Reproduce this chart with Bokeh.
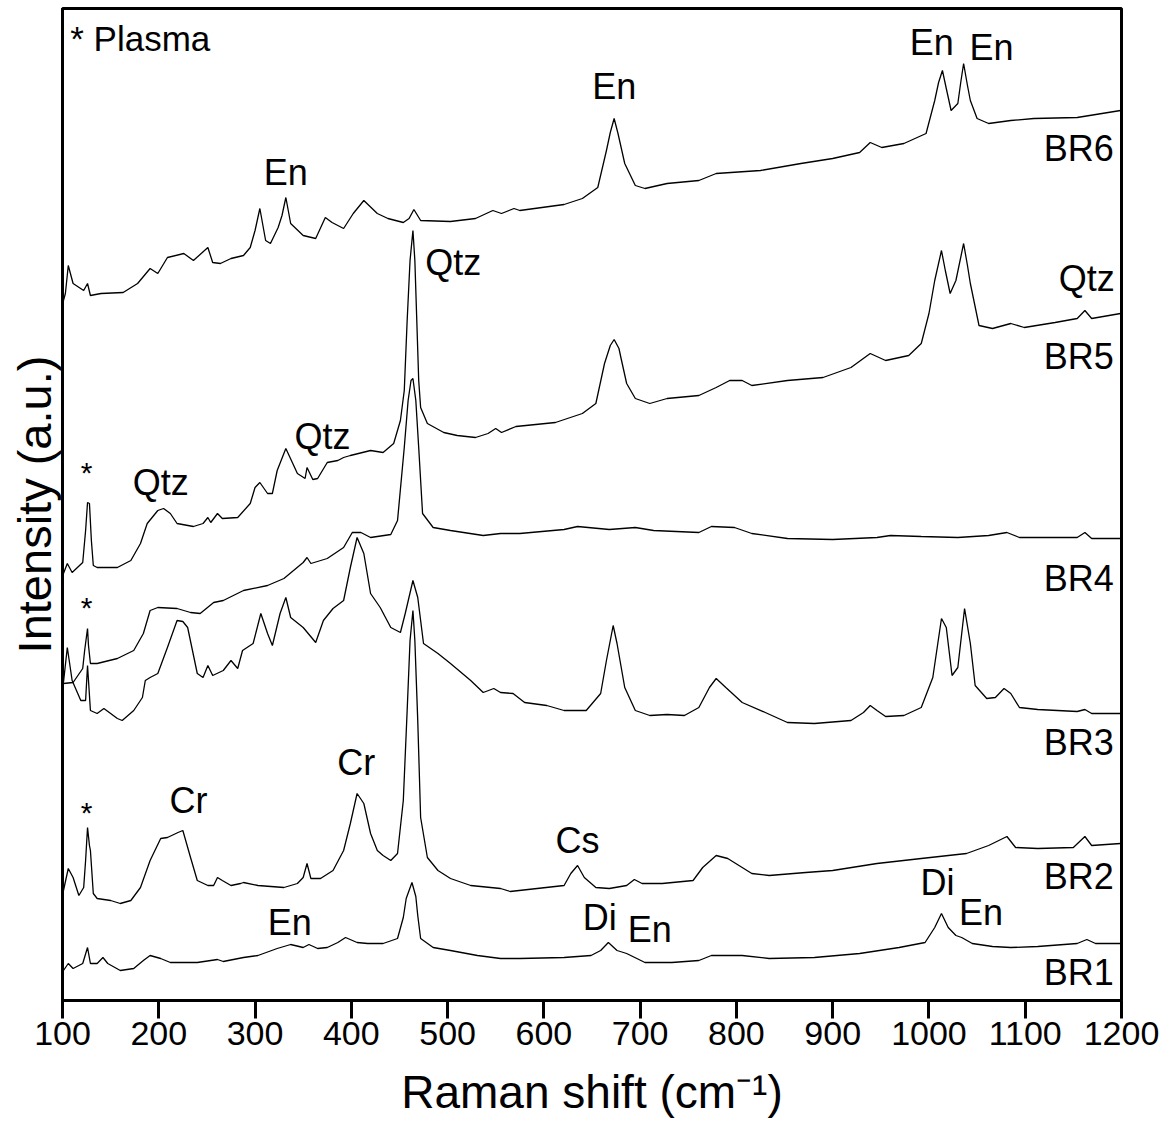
from bokeh.plotting import figure
from bokeh.models import Range1d, FixedTicker
from bokeh.core.properties import value
from bokeh.embed import file_html
from bokeh.resources import INLINE

FONT = "Liberation Sans"

# ---- spectra (Raman shift in cm-1, intensity in a.u., stacked) ----
x_br6 = [101, 103, 106, 111, 122, 126, 129, 140, 163, 178, 191, 199, 209, 226, 236, 251, 256, 264, 275, 288,
         295, 300, 305, 311, 316, 324, 328, 332, 337, 350, 363, 373, 380, 392, 402, 413, 427, 438, 454, 460,
         465, 472, 503, 529, 547, 556, 569, 575, 621, 640, 656, 665, 669, 673, 677, 684, 695, 705, 728, 761,
         779, 825, 867, 900, 928, 939, 951, 974, 997, 1006, 1010, 1014, 1018, 1023, 1030, 1033, 1036, 1040, 1043, 1050,
         1062, 1085, 1109, 1154, 1199]
y_br6 = [700, 707, 735, 717, 710, 717, 705, 707, 708, 717, 732, 727, 743, 747, 740, 753, 738, 737, 742, 745,
         753, 770, 792, 760, 757, 773, 785, 803, 777, 765, 762, 783, 778, 772, 787, 800, 787, 782, 778, 782,
         791, 780, 779, 782, 790, 787, 792, 790, 796, 802, 813, 850, 868, 882, 867, 837, 815, 812, 817, 820,
         827, 830, 837, 842, 848, 858, 853, 857, 867, 900, 918, 930, 912, 890, 897, 918, 937, 915, 900, 882,
         877, 880, 882, 883, 890]

x_br5 = [101, 105, 110, 121, 124, 126, 128, 130, 132, 136, 157, 171, 181, 188, 199, 205, 212, 219, 236, 246,
         251, 254, 261, 266, 282, 295, 300, 305, 313, 318, 323, 332, 344, 352, 354, 360, 365, 375, 386, 392,
         399, 420, 433, 444, 451, 455, 458, 461, 464, 466, 468, 470, 472, 479, 496, 510, 529, 542, 550, 556,
         571, 612, 640, 654, 663, 669, 673, 678, 680, 686, 695, 710, 728, 761, 779, 793, 806, 816, 853, 890,
         919, 939, 955, 979, 992, 1000, 1006, 1013, 1017, 1022, 1028, 1036, 1040, 1043, 1052, 1066, 1085, 1099, 1131, 1154,
         1162, 1169, 1199]
y_br5 = [427, 437, 428, 438, 470, 498, 497, 460, 435, 433, 433, 440, 457, 477, 490, 492, 487, 477, 474, 477,
         483, 478, 487, 482, 483, 497, 513, 518, 507, 507, 530, 552, 527, 522, 533, 521, 522, 538, 540, 543,
         545, 550, 548, 557, 580, 610, 680, 740, 770, 740, 680, 620, 593, 577, 568, 565, 563, 567, 572, 568,
         574, 578, 587, 597, 637, 655, 661, 652, 643, 617, 602, 597, 602, 605, 613, 620, 620, 615, 620, 623,
         633, 647, 640, 645, 657, 687, 720, 750, 730, 707, 720, 757, 735, 717, 675, 672, 677, 673, 678, 682,
         690, 682, 687]

x_br4 = [101, 111, 121, 123, 126, 127, 129, 136, 157, 174, 184, 191, 199, 219, 233, 243, 257, 267, 288, 313,
         330, 350, 354, 358, 375, 392, 401, 410, 420, 441, 448, 455, 459, 462, 464, 467, 470, 474, 485, 503,
         537, 555, 575, 621, 635, 668, 695, 714, 761, 774, 798, 816, 853, 900, 946, 960, 992, 1030, 1062, 1081,
         1094, 1154, 1162, 1169, 1199]
y_br4 = [317, 318, 332, 350, 372, 355, 337, 337, 342, 350, 367, 390, 393, 392, 388, 387, 398, 400, 410, 415,
         422, 438, 443, 437, 442, 453, 468, 468, 463, 466, 480, 553, 600, 620, 622, 600, 553, 487, 473, 470,
         465, 467, 467, 471, 474, 471, 473, 470, 468, 474, 473, 467, 462, 461, 463, 465, 464, 463, 465, 468,
         463, 463, 468, 462, 462]

x_br3 = [101, 105, 110, 119, 124, 126, 129, 136, 143, 157, 162, 174, 183, 186, 191, 199, 209, 219, 225, 230,
         240, 246, 251, 256, 267, 275, 282, 287, 298, 306, 313, 318, 326, 332, 337, 350, 363, 371, 381, 392,
         399, 406, 413, 420, 430, 441, 451, 456, 464, 469, 475, 490, 503, 524, 537, 548, 555, 568, 580, 603,
         621, 644, 659, 665, 672, 676, 684, 695, 710, 728, 746, 761, 772, 779, 789, 806, 830, 853, 881, 919,
         932, 939, 946, 955, 974, 992, 1004, 1013, 1018, 1024, 1030, 1037, 1043, 1048, 1060, 1069, 1078, 1085, 1094, 1113,
         1154, 1162, 1169, 1199]
y_br3 = [318, 353, 320, 300, 300, 335, 290, 287, 292, 282, 280, 290, 303, 320, 323, 327, 353, 380, 379, 373,
         327, 323, 335, 325, 330, 340, 332, 350, 357, 387, 367, 355, 387, 403, 383, 373, 358, 380, 392, 400,
         433, 463, 447, 407, 393, 373, 368, 387, 420, 403, 357, 347, 337, 320, 308, 312, 308, 307, 298, 295,
         290, 290, 307, 340, 375, 357, 313, 290, 285, 286, 285, 293, 313, 322, 313, 298, 288, 278, 277, 280,
         288, 295, 290, 284, 285, 293, 323, 382, 373, 325, 333, 392, 357, 315, 302, 303, 312, 307, 293, 291,
         289, 291, 287, 287]

x_br2 = [101, 106, 111, 117, 122, 124, 126, 128, 129, 132, 136, 150, 160, 171, 181, 191, 202, 209, 220, 225,
         233, 240, 251, 257, 261, 266, 275, 285, 288, 303, 330, 344, 350, 354, 358, 368, 381, 392, 399, 406,
         413, 420, 427, 433, 441, 448, 454, 458, 461, 464, 466, 469, 472, 479, 490, 503, 524, 555, 565, 593,
         621, 628, 635, 642, 654, 668, 686, 694, 702, 723, 755, 765, 779, 791, 806, 816, 834, 872, 900, 946,
         992, 1039, 1062, 1081, 1090, 1113, 1150, 1162, 1169, 1199]
y_br2 = [110, 132, 123, 105, 113, 140, 173, 155, 150, 107, 102, 100, 97, 100, 113, 140, 162, 163, 168, 170,
         143, 120, 115, 115, 123, 120, 115, 117, 118, 115, 113, 117, 123, 137, 122, 122, 130, 150, 177, 207,
         197, 167, 150, 145, 140, 147, 200, 290, 360, 390, 360, 280, 183, 143, 130, 122, 115, 112, 109, 112,
         115, 127, 135, 123, 113, 112, 115, 121, 117, 117, 120, 133, 145, 142, 133, 127, 125, 128, 130, 137,
         142, 147, 155, 164, 153, 152, 153, 164, 155, 157]

x_br1 = [101, 106, 111, 121, 126, 129, 136, 142, 147, 160, 174, 184, 191, 202, 212, 240, 261, 267, 288, 303,
         323, 337, 350, 356, 365, 375, 386, 394, 406, 417, 433, 448, 454, 457, 463, 467, 469, 472, 485, 503,
         531, 555, 575, 621, 649, 659, 667, 676, 686, 705, 733, 761, 774, 806, 834, 881, 928, 969, 996, 1006,
         1013, 1020, 1028, 1034, 1045, 1066, 1085, 1113, 1154, 1164, 1173, 1199]
y_br1 = [30, 37, 32, 37, 53, 37, 37, 43, 37, 30, 32, 40, 45, 42, 38, 38, 41, 39, 43, 45,
         52, 56, 53, 56, 52, 53, 58, 63, 58, 57, 57, 62, 83, 102, 118, 104, 85, 62, 53, 50,
         45, 42, 42, 43, 45, 50, 58, 50, 47, 38, 38, 40, 45, 45, 42, 43, 47, 53, 58, 73,
         87, 73, 65, 63, 57, 54, 53, 54, 57, 61, 57, 57]

# ---- annotations ----
peak_text = ["En", "En", "En", "En", "Qtz", "Qtz", "Qtz", "Qtz", "Cr", "Cr", "Cs", "En", "Di", "En", "Di", "En"]
peak_x = [332, 673, 1003, 1065, 506, 1164, 202, 370, 231, 405, 635, 336, 658, 710, 1009, 1054]
peak_y = [828, 914, 958, 953, 738, 722, 518, 564, 200, 238, 160, 78, 83, 71, 118, 88]

star_x = [125, 125, 125]
star_y = [528, 393, 188]

sample_names = ["BR6", "BR5", "BR4", "BR3", "BR2", "BR1"]
sample_y = [852, 644, 422, 258, 124, 28]
sample_x = [1192, 1192, 1192, 1192, 1192, 1192]

tick_values = [100, 200, 300, 400, 500, 600, 700, 800, 900, 1000, 1100, 1200]

p = figure(width=1169, height=1129, output_backend="svg", toolbar_location=None,
           x_range=Range1d(100, 1200), y_range=Range1d(0, 992),
           min_border_left=62, min_border_right=48, min_border_top=8, min_border_bottom=129)
p.grid.visible = False
p.background_fill_color = "white"
p.border_fill_color = "white"
p.outline_line_color = "black"
p.outline_line_width = 3

for xs, ys in [(x_br6, y_br6), (x_br5, y_br5), (x_br4, y_br4), (x_br3, y_br3), (x_br2, y_br2), (x_br1, y_br1)]:
    p.line(xs, ys, line_color="black", line_width=1.3)

p.text(x=peak_x, y=peak_y, text=peak_text, text_font=value(FONT), text_font_size="36px",
       text_align="center", text_baseline="middle", text_color="black")
p.text(x=star_x, y=star_y, text=["*", "*", "*"], text_font=value(FONT), text_font_size="30px",
       text_align="center", text_baseline="middle", text_color="black")
p.text(x=sample_x, y=sample_y, text=sample_names, text_font=value(FONT), text_font_size="36px",
       text_align="right", text_baseline="middle", text_color="black")
p.text(x=[108], y=[962], text=["* Plasma"], text_font=value(FONT), text_font_size="35px",
       text_align="left", text_baseline="middle", text_color="black")

xa = p.xaxis[0]
xa.ticker = FixedTicker(ticks=tick_values)
xa.major_label_text_font = FONT
xa.major_label_text_font_size = "34px"
xa.major_label_text_color = "black"
xa.major_label_standoff = 3
xa.major_tick_in = 0
xa.major_tick_out = 18
xa.minor_tick_in = 0
xa.minor_tick_out = 0
xa.axis_line_width = 3
xa.axis_line_color = "black"
xa.major_tick_line_width = 3
xa.major_tick_line_color = "black"
xa.axis_label = "Raman shift (cm\u207b\u00b9)"
xa.axis_label_text_font = FONT
xa.axis_label_text_font_size = "46px"
xa.axis_label_text_color = "black"
xa.axis_label_text_font_style = "normal"
xa.axis_label_standoff = 18

ya = p.yaxis[0]
ya.ticker = FixedTicker(ticks=[])
ya.major_tick_in = 0
ya.major_tick_out = 0
ya.minor_tick_in = 0
ya.minor_tick_out = 0
ya.major_label_standoff = 0
ya.axis_line_width = 3
ya.axis_line_color = "black"
ya.axis_label = "Intensity (a.u.)"
ya.axis_label_text_font = FONT
ya.axis_label_text_font_size = "47px"
ya.axis_label_text_color = "black"
ya.axis_label_text_font_style = "normal"
ya.axis_label_standoff = 2

open("out.html", "w").write(file_html(p, INLINE))
